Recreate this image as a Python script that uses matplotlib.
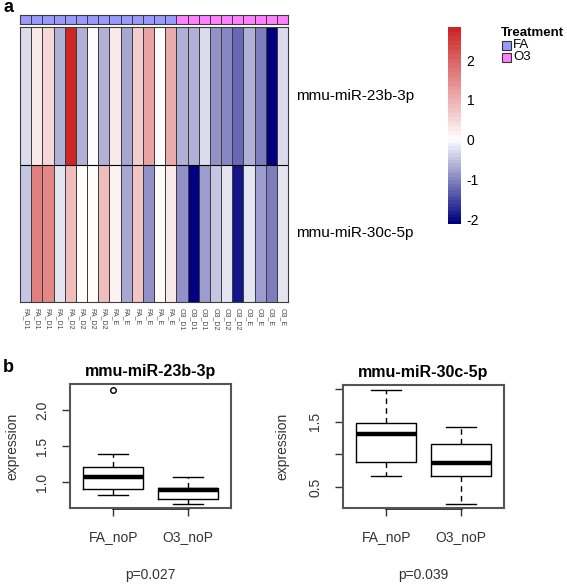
import numpy as np
import matplotlib
matplotlib.use('Agg')
import matplotlib.pyplot as plt
from matplotlib.colors import LinearSegmentedColormap, TwoSlopeNorm, ListedColormap

plt.rcParams['font.family'] = ['Liberation Sans', 'DejaVu Sans']
plt.rcParams['axes.unicode_minus'] = False

# Heatmap data (scaled expression)
samples = ['FA_D1'] * 4 + ['FA_D2'] * 4 + ['FA_E'] * 6 + ['O3_D1'] * 3 + ['O3_D2'] * 3 + ['O3_E'] * 4
treatment = ['FA'] * 14 + ['O3'] * 10
mirnas = ['mmu-miR-23b-3p', 'mmu-miR-30c-5p']
mir23b = [-0.3, 0.3, 0.5, -0.6, 2.8, -0.6, 0.1, -0.6, 0.3, -0.7, 0.6, 1.2, 0.1, 1.1,
          -0.6, -0.6, -0.3, -0.9, -1.0, -1.2, -0.6, -1.1, -2.1, -0.3]
mir30c = [-0.5, 1.6, 1.5, -0.2, 0.8, 0.05, 0.05, 0.8, 0.2, -0.7, 0.7, -0.9, 0.05, 0.3,
          -0.9, -2.1, -0.8, -0.5, -0.2, -1.9, -0.2, -0.8, -1.1, -0.2]
scale_min, scale_max = -2.12, 2.83

# Boxplot stats
groups = ['FA_noP', 'O3_noP']
box23b = {'FA_noP': dict(whislo=0.82, q1=0.91, med=1.07, q3=1.21, whishi=1.39, fliers=[2.28]),
          'O3_noP': dict(whislo=0.70, q1=0.77, med=0.885, q3=0.915, whishi=1.07, fliers=[])}
box30c = {'FA_noP': dict(whislo=0.67, q1=0.885, med=1.305, q3=1.48, whishi=1.99, fliers=[]),
          'O3_noP': dict(whislo=0.245, q1=0.67, med=0.87, q3=1.155, whishi=1.41, fliers=[])}
pvals = ['p=0.027', 'p=0.039']

W, H = 567, 584
fig = plt.figure(figsize=(W / 100, H / 100), dpi=100)


def px_axes(x0, y0, x1, y1):
    # pixel box (top-left origin) -> axes
    return fig.add_axes([x0 / W, (H - y1) / H, (x1 - x0) / W, (y1 - y0) / H])


cmap = LinearSegmentedColormap.from_list('bwr_r', ['#000080', '#ffffff', '#cd2626'], N=50)
norm = TwoSlopeNorm(vmin=scale_min, vcenter=0, vmax=scale_max)

# ---- panel a: heatmap ----
ax_hm = px_axes(20, 27, 288, 302)
data = np.array([mir23b, mir30c])
ax_hm.pcolormesh(data, cmap=cmap, norm=norm, edgecolors='#3c3c3c', linewidth=0.5)
ax_hm.axhline(1, color='black', lw=0.8)
ax_hm.set_ylim(2, 0)
ax_hm.set_xlim(0, len(samples))
for s in ax_hm.spines.values():
    s.set_color('#3c3c3c')
    s.set_linewidth(0.8)
ax_hm.set_yticks([])
ax_hm.set_xticks(np.arange(len(samples)) + 0.5)
ax_hm.set_xticklabels(samples, rotation=270, fontsize=5, color='#444444', va='top')
ax_hm.tick_params(axis='x', length=0, pad=4)
for i, name in enumerate(mirnas):
    ax_hm.text(len(samples) + 0.7, i + 0.5, name, fontsize=11, va='center', ha='left')

# annotation bar
ax_an = px_axes(20, 15, 288, 24)
tcolors = {'FA': '#9999ff', 'O3': '#ff80ff'}
ann = np.array([[0 if t == 'FA' else 1 for t in treatment]])
ax_an.pcolormesh(ann, cmap=ListedColormap([tcolors['FA'], tcolors['O3']]),
                 edgecolors='#3c3c3c', linewidth=0.5)
ax_an.set_xticks([])
ax_an.set_yticks([])
for s in ax_an.spines.values():
    s.set_color('#3c3c3c')
    s.set_linewidth(0.8)

# colorbar
ax_cb = px_axes(448, 27, 461, 224)
cb = fig.colorbar(plt.cm.ScalarMappable(norm=norm, cmap=cmap), cax=ax_cb)
cb.outline.set_visible(False)
cb.set_ticks([-2, -1, 0, 1, 2])
cb.ax.set_yscale('linear')
ax_cb.set_ylim(scale_min, scale_max)
ax_cb.tick_params(length=0, pad=4, labelsize=10)

# treatment legend
fig.text(501 / W, 1 - 33 / H, 'Treatment', fontsize=9.5, fontweight='bold', va='center')
for k, (lab, col) in enumerate(tcolors.items()):
    yc = 45 + 12 * k
    fig.patches.append(plt.Rectangle((502 / W, 1 - (yc + 4.5) / H), 9 / W, 9 / H,
                                     transform=fig.transFigure, facecolor=col,
                                     edgecolor='#333333', lw=0.8))
    fig.text(513 / W, 1 - yc / H, lab, fontsize=9.5, va='center')

fig.text(3 / W, 1 - 8 / H, 'a', fontsize=13, fontweight='bold', va='center')
fig.text(3 / W, 1 - 367 / H, 'b', fontsize=13, fontweight='bold', va='center')

# ---- panel b: boxplots ----
panels = [
    (px_axes(70, 384, 231, 508), 'mmu-miR-23b-3p', box23b, (0.64, 2.36),
     [1.0, 1.5, 2.0], ['1.0', '1.5', '2.0']),
    (px_axes(343, 385, 504, 508), 'mmu-miR-30c-5p', box30c, (0.177, 2.06),
     [0.5, 1.0, 1.5, 2.0], ['0.5', '', '1.5', '']),
]
for (ax, title, stats, ylim, yt, ytl), p in zip(panels, pvals):
    bstats = [dict(stats[g], label=g) for g in groups]
    ax.bxp(bstats, positions=[1, 2], widths=0.8, showfliers=True, capwidths=0.4,
           boxprops=dict(color='black', lw=1.0),
           medianprops=dict(color='black', lw=3.2),
           whiskerprops=dict(color='black', lw=1.0, ls=(0, (4, 3))),
           capprops=dict(color='black', lw=1.0),
           flierprops=dict(marker='o', markersize=4, markerfacecolor='none',
                           markeredgecolor='black', markeredgewidth=1.0))
    ax.set_xlim(0.42, 2.58)
    ax.set_ylim(*ylim)
    ax.set_yticks(yt)
    ax.set_yticklabels(ytl, rotation=90, va='center', fontsize=10, color='#333333')
    ax.set_xticks([1, 2])
    ax.set_xticklabels(groups, fontsize=10, color='#333333')
    ax.tick_params(axis='both', length=6, width=1.0, color='#333333')
    ax.tick_params(axis='y', pad=9)
    ax.tick_params(axis='x', pad=10)
    for s in ax.spines.values():
        s.set_color('#555555')
        s.set_linewidth(1.5)
    ax.plot([0, 0], [yt[0], yt[-1]], transform=ax.get_yaxis_transform(),
            color='#333333', lw=1.2, clip_on=False)
    ax.plot([1, 2], [0, 0], transform=ax.get_xaxis_transform(),
            color='black', lw=1.8, clip_on=False)
    ax.set_title(title, fontsize=11.5, fontweight='bold', pad=6)
    ax.set_ylabel('expression', fontsize=10, color='#333333')
    ax.set_xlabel(p, fontsize=10, color='#333333', labelpad=17)

# put the y labels where the reference has them
panels[0][0].yaxis.set_label_coords(-51 / 161, 0.5)
panels[1][0].yaxis.set_label_coords(-54 / 161, 0.5)

fig.savefig('out.png', dpi=100)
